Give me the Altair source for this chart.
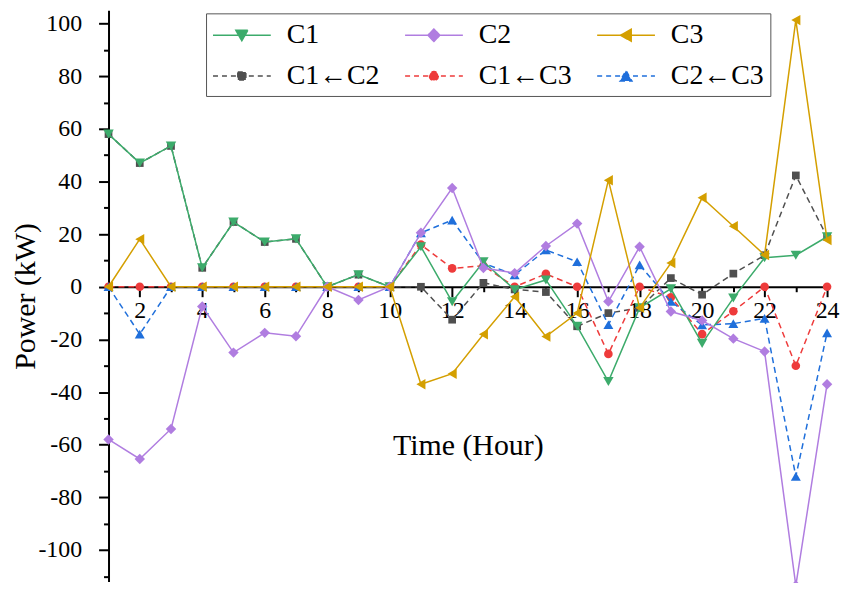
import altair as alt
import pandas as pd

hours = list(range(1, 25))
series_names = ["C1", "C2", "C3", "C1←C2", "C1←C3", "C2←C3"]

c1 = [58, 47, 53.5, 7.2, 24.6, 17, 18.2, 0, 4.6, 0, 15.2, -5.7, 9.5, -1.1, 2.6, -15,
      -36, -8, -0.8, -21.5, -4.3, 11, 12, 19]
c2 = [-58, -65.4, -54, -7.5, -25, -17.5, -18.8, 0, -5, 0, 20.5, 37.5, 7.1, 5.2, 15.5, 24,
      -5.6, 15.2, -9.4, -12.8, -19.7, -24.6, -113.5, -37]
c3 = [0, 18.1, 0, 0, 0, 0, 0, 0, 0, 0, -37, -33, -18, -3.8, -18.9, -10,
      40.5, -8, 9, 33.8, 23, 12.1, 101.3, 17.8]
c1_from_c2 = [58, 47, 53.5, 7.2, 24.6, 17, 18.2, 0, 4.6, 0, 0, -12.5, 1.5, -1, -2, -15,
              -10, -8, 3.3, -3, 5, 12, 42.3, 19]
c1_from_c3 = [0, 0, 0, 0, 0, 0, 0, 0, 0, 0, 16, 7, 8, 0, 4.9, 0,
              -25.5, 0, -4, -18, -9.3, 0, -30, 0]
c2_from_c3 = [0, -18, 0, 0, 0, 0, 0, 0, 0, 0, 20.5, 25.3, 9, 4.5, 14, 9.5,
              -14.4, 8.3, -5.6, -14.5, -14, -12, -72, -17.5]

values = [c1, c2, c3, c1_from_c2, c1_from_c3, c2_from_c3]

colors = ["#3CAB6B", "#B07DE0", "#D49F00", "#4F4F4F", "#EE3B3B", "#1F6FDB"]
shapes = ["triangle-down", "diamond", "triangle-left", "square", "circle", "triangle-up"]
sizes = [110, 110, 110, 60, 75, 100]
dashed = [False, False, False, True, True, True]

# legend symbols: line segment + marker (unit coords, scaled by sqrt(size)/2)
legend_paths = [
    "M-1,0H2.87M0.53,-0.33L1.33,-0.33L0.93,0.37Z",
    "M-1,0H2.87M0.93,-0.42L1.33,0L0.93,0.42L0.53,0Z",
    "M-1,0H2.87M0.56,0L1.28,-0.4L1.28,0.4Z",
    "M-1,0H2.87M0.66,-0.27H1.2V0.27H0.66Z",
    "M-1,0H2.87M0.63,0A0.3,0.3 0 1,0 1.23,0A0.3,0.3 0 1,0 0.63,0Z",
    "M-1,0H2.87M0.53,0.33L1.33,0.33L0.93,-0.37Z",
]
legend_dashes = [[1, 0], [1, 0], [1, 0], [5, 4], [5, 4], [5, 4]]

rows = []
for name, vals in zip(series_names, values):
    for h, v in zip(hours, vals):
        rows.append({"hour": h, "power": v, "series": name})
df = pd.DataFrame(rows)

FONT = "Liberation Serif"
LABEL_FONT = "Liberation Serif, Times New Roman, serif"

x_enc = alt.X(
    "hour:Q",
    scale=alt.Scale(domain=[1, 24], nice=False, zero=False),
    axis=alt.Axis(
        title="Time (Hour)",
        values=hours,
        labelExpr="datum.value % 2 === 0 ? '' + datum.value : ''",
        offset=-296.3,
        tickSize={"condition": {"test": "datum.value % 2 === 0", "value": 10}, "value": 5},
        labelPadding=2,
        titlePadding=109,
        labelFlush=False,
        labelOverlap=False,
        labelFont=LABEL_FONT,
        labelFontSize=24,
        titleFont=FONT,
    ),
)
y_enc = alt.Y(
    "power:Q",
    scale=alt.Scale(domain=[-112, 105], nice=False, zero=False),
    axis=alt.Axis(
        title="Power (kW)",
        values=list(range(-110, 101, 10)),
        labelExpr="datum.value % 20 === 0 ? '' + datum.value : ''",
        tickSize={"condition": {"test": "datum.value % 20 === 0", "value": 10}, "value": 5},
        labelPadding=17,
        titleX=-68,
        labelOverlap=False,
        labelFont=LABEL_FONT,
        labelFontSize=24,
        titleFont=FONT,
    ),
)

layers = []
order = [3, 4, 5, 0, 1, 2]
for i in order:
    name = series_names[i]
    base = alt.Chart(df).transform_filter(alt.datum.series == name)
    if dashed[i]:
        line = base.mark_line(color=colors[i], strokeWidth=1.5, strokeDash=[6, 4])
    else:
        line = base.mark_line(color=colors[i], strokeWidth=1.5)
    layers.append(line.encode(x=x_enc, y=y_enc))
    pts = base.mark_point(filled=True, color=colors[i], shape=shapes[i], size=sizes[i], opacity=1)
    layers.append(pts.encode(x=x_enc, y=y_enc))

leg = alt.Legend(
    title=None,
    orient="none",
    legendX=98,
    legendY=3,
    direction="horizontal",
    columns=3,
    symbolSize=900,
    symbolStrokeWidth=1.5,
    symbolOpacity=1,
    labelFont=FONT,
    labelFontSize=28,
    labelColor="black",
    labelOffset=43,
    labelLimit=300,
    columnPadding=22,
    rowPadding=11,
    padding=6,
    strokeColor="#555555",
    fillColor="white",
    zindex=1,
)

legend_layer = (
    alt.Chart(pd.DataFrame({"series": series_names}))
    .transform_filter("false")
    .mark_point(filled=True)
    .encode(
        fill=alt.Fill("series:N", scale=alt.Scale(domain=series_names, range=colors), legend=leg),
        stroke=alt.Stroke("series:N", scale=alt.Scale(domain=series_names, range=colors), legend=leg),
        shape=alt.Shape("series:N", scale=alt.Scale(domain=series_names, range=legend_paths), legend=leg),
        strokeDash=alt.StrokeDash("series:N", scale=alt.Scale(domain=series_names, range=legend_dashes), legend=leg),
    )
)
layers.append(legend_layer)

chart = (
    alt.layer(*layers)
    .properties(
        width=722,
        height=574,
        autosize=alt.AutoSizeParams(type="none"),
        padding={"left": 101, "top": 1, "right": 14, "bottom": 0},
    )
    .configure(font=FONT)
    .configure_view(stroke=None)
    .configure_axis(
        grid=False,
        domainColor="black",
        domainWidth=2,
        tickColor="black",
        tickWidth=2,
        labelFont=LABEL_FONT,
        labelFontSize=24,
        labelColor="black",
        titleFont=FONT,
        titleFontSize=30,
        titleFontWeight="normal",
        titleColor="black",
    )
)

chart.save("out.html", embed_options={"renderer": "svg", "actions": False})
